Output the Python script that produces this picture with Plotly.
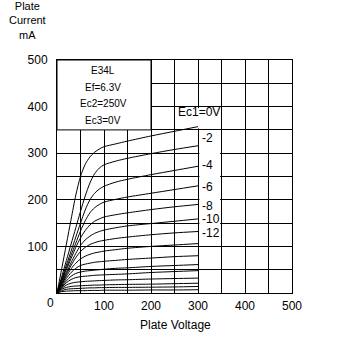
import plotly.graph_objects as go

# Plate voltage sample points (V)
plate_v = [0, 10, 20, 30, 40, 50, 60, 70, 80, 90, 100, 125, 150, 200, 250, 300]

# Plate current (mA) for each grid-1 voltage
ec1_0 = [0, 52, 105, 158, 210, 250, 276, 292, 302, 309, 314, 320, 326, 337, 347, 357]
ec1_m2 = [0, 35, 70, 105, 140, 175, 208, 236, 256, 268, 275, 283, 289, 299, 308, 316]
ec1_m4 = [0, 30, 60, 90, 120, 150, 178, 200, 214, 223, 229, 238, 244, 254, 263, 272]
ec1_m6 = [0, 27, 54, 81, 107, 133, 155, 172, 183, 190, 195, 201, 206, 214, 222, 230]
ec1_m8 = [0, 25, 50, 74, 98, 118, 134, 146, 154, 159, 163, 168, 172, 179, 185, 190]
ec1_m10 = [0, 22, 44, 65, 85, 102, 114, 122, 128, 132, 135, 140, 144, 149, 154, 159]
ec1_m12 = [0, 20, 40, 59, 76, 89, 98, 104, 108, 111, 113, 117, 120, 125, 129, 132]
ec1_m14 = [0, 18, 36, 52, 64, 73, 79, 83, 86, 88, 90, 93, 96, 100, 103, 106]
ec1_m16 = [0, 16, 31, 44, 53, 59, 62, 64, 66, 67, 68, 70, 72, 75, 78, 80]
ec1_m18 = [0, 14, 26, 36, 42, 45, 47, 48, 49, 50, 51, 53, 54, 57, 59, 61]
ec1_m20 = [0, 12, 22, 29, 33, 35, 36, 37, 38, 38.5, 39, 40, 41, 44, 46, 48]
ec1_m22 = [0, 10, 17, 21, 23, 24, 25, 25.5, 26, 26.5, 27, 28, 28.5, 30, 31, 32]
ec1_m24 = [0, 8, 12, 14, 15, 15.5, 16, 16.5, 17, 17, 17.5, 18, 18.5, 19, 20, 21]
ec1_m26 = [0, 5, 8, 9, 9.5, 10, 10.5, 11, 11, 11.5, 11.5, 12, 12, 12.5, 13, 14]
ec1_m28 = [0, 3, 4, 4.5, 5, 5, 5, 5.5, 5.5, 5.5, 6, 6, 6, 6.5, 6.5, 7]

curves = [ec1_0, ec1_m2, ec1_m4, ec1_m6, ec1_m8, ec1_m10, ec1_m12, ec1_m14,
          ec1_m16, ec1_m18, ec1_m20, ec1_m22, ec1_m24, ec1_m26, ec1_m28]

# Curve labels and their positions (V, mA)
label_texts = ["-2", "-4", "-6", "-8", "-10", "-12"]
label_y = [332, 275, 228, 187, 159, 129]

info_lines = ["E34L", "Ef=6.3V", "Ec2=250V", "Ec3=0V"]
info_y = [478, 442, 406, 371]

# grid every 50, labels every 100
grid_vals = [0, 50, 100, 150, 200, 250, 300, 350, 400, 450, 500]
x_ticktext = ["", "", "100", "", "200", "", "300", "", "400", "", "500"]
y_ticktext = ["", "", "100", "", "200", "", "300", "", "400", "", "500"]

FONT = "Liberation Sans, Arial, sans-serif"

fig = go.Figure()
for c in curves:
    fig.add_trace(go.Scatter(x=plate_v, y=c, mode="lines",
                             line=dict(color="black", width=1, shape="spline", smoothing=0.8),
                             hoverinfo="skip", showlegend=False))

shapes = [
    dict(type="rect", xref="x", yref="y", x0=0, x1=200, y0=350, y1=500,
         fillcolor="white", line=dict(color="black", width=1), layer="between"),
    dict(type="rect", xref="x", yref="y", x0=253, x1=347, y0=353, y1=397,
         fillcolor="white", line=dict(width=0), layer="between"),
    dict(type="rect", xref="x", yref="y", x0=303, x1=347, y0=104, y1=347,
         fillcolor="white", line=dict(width=0), layer="between"),
]

annotations = []
for t, yv in zip(info_lines, info_y):
    annotations.append(dict(x=98, y=yv, xref="x", yref="y", text=t, showarrow=False,
                            font=dict(size=10, color="black", family=FONT),
                            xanchor="center", yanchor="middle"))
annotations.append(dict(x=254, y=388, xref="x", yref="y", text="Ec1=0V", showarrow=False,
                        font=dict(size=12, color="black", family=FONT),
                        xanchor="left", yanchor="middle"))
for t, yv in zip(label_texts, label_y):
    annotations.append(dict(x=305, y=yv, xref="x", yref="y", text=t, showarrow=False,
                            font=dict(size=12, color="black", family=FONT),
                            xanchor="left", yanchor="middle"))

# Axis titles (pixel positions converted to paper below)
annotations.append(dict(x=27, y=350 - 20, xref="paper", yref="paper",
                        text="Plate<br>Current<br>mA", showarrow=False,
                        font=dict(size=11, color="black", family=FONT),
                        xanchor="center", yanchor="middle"))
annotations.append(dict(x=175, y=350 - 325, xref="paper", yref="paper", text="Plate Voltage",
                        showarrow=False, font=dict(size=12, color="black", family=FONT),
                        xanchor="center", yanchor="middle"))
annotations.append(dict(x=50, y=350 - 303, xref="paper", yref="paper", text="0",
                        showarrow=False, font=dict(size=12, color="black", family=FONT),
                        xanchor="center", yanchor="middle"))

L, R, T, B = 57, 58, 60, 57
pw, ph = 350 - L - R, 350 - T - B
for a in annotations:
    if a["xref"] == "paper":
        a["x"] = (a["x"] - L) / pw
        a["y"] = (a["y"] - B) / ph

axis_common = dict(range=[0, 500], tickvals=grid_vals,
                   showgrid=True, gridcolor="black", gridwidth=1, zeroline=False,
                   showline=True, mirror=True, linecolor="black", linewidth=1,
                   ticks="", fixedrange=True)

fig.update_layout(
    width=350, height=350,
    margin=dict(l=L, r=R, t=T, b=B, pad=0),
    paper_bgcolor="white", plot_bgcolor="white",
    font=dict(family=FONT, size=12, color="black"),
    shapes=shapes, annotations=annotations,
    xaxis=dict(**axis_common, ticktext=x_ticktext, ticklabelstandoff=2),
    yaxis=dict(**axis_common, ticktext=y_ticktext, ticklabelstandoff=6),
)
fig.write_html("out.html")
